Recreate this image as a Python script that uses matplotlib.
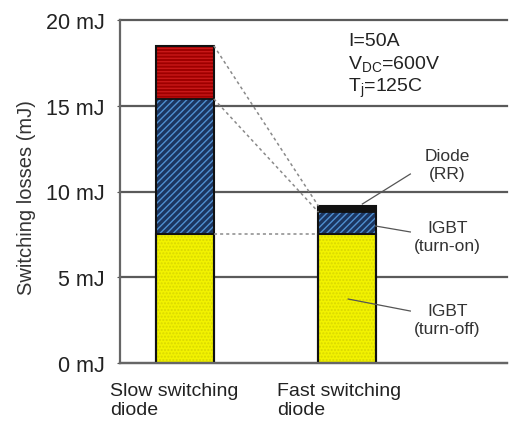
import numpy as np
import matplotlib
matplotlib.use("Agg")
import matplotlib.pyplot as plt

plt.rcParams['font.family'] = ['Liberation Sans', 'DejaVu Sans']

# loss components per diode type (mJ)
diodes = ["Slow switching\ndiode", "Fast switching\ndiode"]
igbt_off = [7.5, 7.5]
igbt_on = [7.9, 1.3]
diode_rr = [3.1, 0.35]
yticks = [0, 5, 10, 15, 20]
conditions = ["I=50A", "$\\mathregular{V_{DC}}$=600V", "$\\mathregular{T_j}$=125C"]

x = np.array([0, 1])
w = 0.355
off = np.array(igbt_off)
on = np.array(igbt_on)
rr = np.array(diode_rr)

fig = plt.figure(figsize=(5.1, 4.27), dpi=100)
ax = fig.add_axes([120 / 510, 63 / 427, 387 / 510, 343 / 427])

ax.set_axisbelow(True)
ax.grid(axis='y', color='#5a5a5a', linewidth=1.6)

# filled segments; edgecolor drives the hatch colour
ax.bar(x, off, w, color='#f2f200', edgecolor='#d8d800', hatch='.....', linewidth=0)
ax.bar(x, on, w, bottom=off, color='#1b3560', edgecolor='#4f8fd0', hatch='/////', linewidth=0)
ax.bar(x[:1], rr[:1], w, bottom=(off + on)[:1], color='#9e0000', edgecolor='#c81818',
       hatch='-----', linewidth=0)
ax.bar(x[1:], rr[1:], w, bottom=(off + on)[1:], color='#111111', linewidth=0)

# outlines
ax.bar(x, off + on + rr, w, fill=False, edgecolor='#111111', linewidth=1.5)
ax.bar(x, off, w, fill=False, edgecolor='#111111', linewidth=1.5)
ax.bar(x, off + on, w, fill=False, edgecolor='#111111', linewidth=1.3)

# dashed connectors between the bars
xr, xl = x[0] + w / 2, x[1] - w / 2
for y0, y1 in [(off + on + rr)[[0, 1]], (off + on)[[0, 1]], off[[0, 1]]]:
    ax.plot([xr, xl], [y0, y1], ls=(0, (2, 2)), color='#8a8a8a', lw=1.1)

ax.set_xlim(-0.401, 1.985)
ax.set_ylim(0, 20)
ax.set_yticks(yticks)
ax.set_yticklabels([f"{v} mJ" for v in yticks], fontsize=15.5, color='#222222')
for gl in ax.get_ygridlines():
    gl.set_clip_on(False)
ax.set_xticks([])
ax.tick_params(axis='y', length=2, color='#555555', pad=9)
for s in ['top', 'right']:
    ax.spines[s].set_visible(False)
for s in ['left', 'bottom']:
    ax.spines[s].set_color('#666666')
    ax.spines[s].set_linewidth(1.6)

ax.set_ylabel("Switching losses (mJ)", fontsize=14.5, color='#333333')
ax.yaxis.set_label_coords(-0.218, 0.484)

for xi, name in zip([(110 - 185) / 162, (277 - 185) / 162], diodes):
    ax.text(xi, -1.1, name, ha='left', va='top', fontsize=14, color='#222222',
            linespacing=1.2, clip_on=False)

for yi, line in zip([18.78, 17.49, 16.05], conditions):
    ax.text(1.006, yi, line, ha='left', va='center', fontsize=14, color='#222222')

# callouts for the fast diode segments
labels = ["Diode\n(RR)", "IGBT\n(turn-on)", "IGBT\n(turn-off)"]
label_y = [11.55, 7.38, 2.54]
leaders = [((1.389, 11.02), (1.093, 9.27)),
           ((1.389, 7.64), (1.173, 7.99)),
           ((1.389, 3.03), (1.006, 3.73))]
for txt, ty, (p0, p1) in zip(labels, label_y, leaders):
    ax.text(1.617, ty, txt, ha='center', va='center', fontsize=12.5, color='#333333',
            linespacing=1.25)
    ax.plot([p0[0], p1[0]], [p0[1], p1[1]], color='#555555', lw=0.9)

fig.savefig("out.png", dpi=100)
